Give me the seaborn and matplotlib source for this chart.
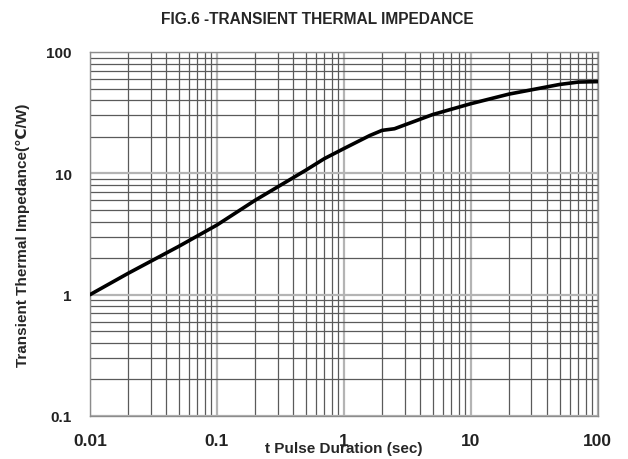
import numpy as np
import pandas as pd
import matplotlib
matplotlib.use("Agg")
import matplotlib.pyplot as plt
import seaborn as sns
from matplotlib.ticker import LogLocator, FixedLocator, FixedFormatter, NullFormatter

# values
pulse_sec = [0.01, 0.02, 0.05, 0.1, 0.2, 0.5, 0.7, 1, 1.6, 2.0, 2.5, 5, 10, 20, 50, 70, 100]
impedance = [1.0, 1.5, 2.5, 3.75, 6.0, 10.6, 13.2, 16.0, 20.5, 22.6, 23.3, 30.5, 37.5, 45, 54, 56.5, 57]

x_ticks = [0.01, 0.1, 1, 10, 100]
x_labels = ["0.01", "0.1", "1", "10", "100"]
y_ticks = [0.1, 1, 10, 100]
y_labels = ["0.1", "1", "10", "100"]

sns.set_style("white")
plt.rcParams["font.family"] = ["Liberation Sans", "DejaVu Sans"]

df = pd.DataFrame({"t": pulse_sec, "z": impedance})

fig = plt.figure(figsize=(6.28, 4.6), dpi=100)
ax = fig.add_axes([0.1433, 0.0935, 0.952 - 0.1433, 0.8848 - 0.0935])

sns.lineplot(data=df, x="t", y="z", ax=ax, color="black", linewidth=2.6, zorder=5)

ax.set_xscale("log")
ax.set_yscale("log")
ax.set_xlim(0.01, 100)
ax.set_ylim(0.1, 100)

ax.xaxis.set_major_locator(FixedLocator(x_ticks))
ax.xaxis.set_major_formatter(FixedFormatter(x_labels))
ax.yaxis.set_major_locator(FixedLocator(y_ticks))
ax.yaxis.set_major_formatter(FixedFormatter(y_labels))
ax.xaxis.set_minor_locator(LogLocator(base=10, subs=np.arange(2, 10)))
ax.yaxis.set_minor_locator(LogLocator(base=10, subs=np.arange(2, 10)))
ax.xaxis.set_minor_formatter(NullFormatter())
ax.yaxis.set_minor_formatter(NullFormatter())

ax.grid(which="major", color="#b4b4b4", linewidth=1.6)
ax.grid(which="minor", color="#5a5a5a", linewidth=0.9)

ax.tick_params(axis="y", which="major", length=5, width=1, color="#999999",
               labelsize=11, labelcolor="#222222", pad=8)
ax.tick_params(axis="x", which="major", length=0, labelsize=12.5,
               labelcolor="#222222", pad=12)
ax.tick_params(which="minor", length=0)
for lbl in ax.get_xticklabels() + ax.get_yticklabels():
    lbl.set_fontweight("bold")

for sp in ax.spines.values():
    sp.set_color("#8c8c8c")
    sp.set_linewidth(1.0)

ax.set_xlabel("t Pulse Duration (sec)", fontsize=11, fontweight="bold", labelpad=-5)
ax.set_ylabel("Transient Thermal Impedance(\u2103/W)", fontsize=11, fontweight="bold",
              labelpad=12)
fig.suptitle("FIG.6 -TRANSIENT THERMAL IMPEDANCE", fontsize=11.2, fontweight="bold",
             x=0.505, y=0.975)

fig.savefig("out.png", dpi=100)
